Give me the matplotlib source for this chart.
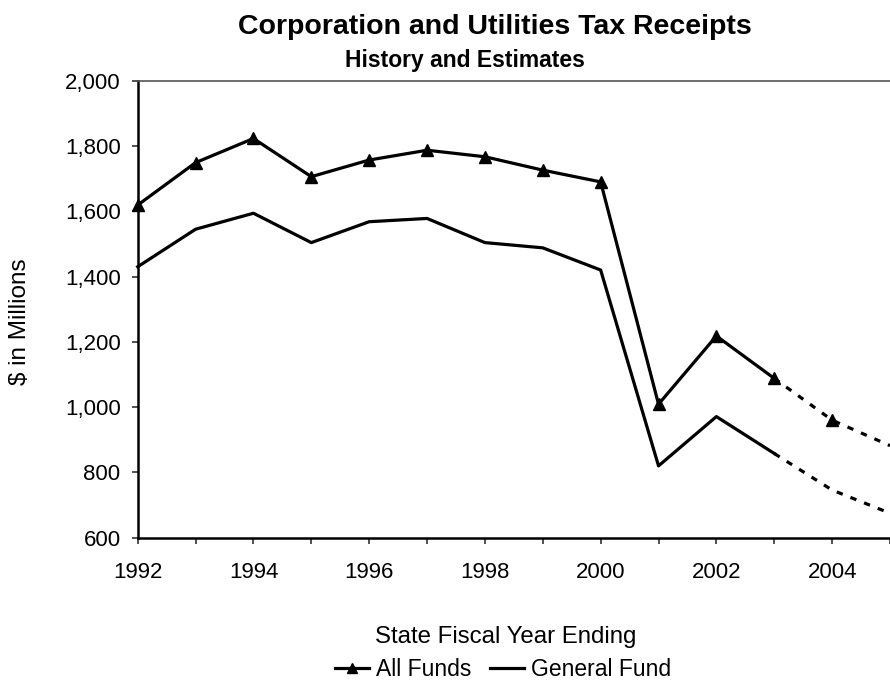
import matplotlib
matplotlib.use("Agg")
import matplotlib.pyplot as plt
from matplotlib.lines import Line2D

plt.rcParams['font.family'] = ['Liberation Sans', 'DejaVu Sans']

years_hist = [1992, 1993, 1994, 1995, 1996, 1997, 1998, 1999, 2000, 2001, 2002, 2003]
all_funds_hist = [1619, 1749, 1823, 1706, 1757, 1787, 1767, 1726, 1690, 1009, 1218, 1088]
general_hist = [1430, 1545, 1594, 1504, 1568, 1578, 1504, 1488, 1420, 820, 971, 858]

years_est = [2003, 2004, 2005]
all_funds_est = [1088, 960, 882]
general_est = [858, 746, 675]

xtick_years = [1992, 1994, 1996, 1998, 2000, 2002, 2004]
yticks = [600, 800, 1000, 1200, 1400, 1600, 1800, 2000]

W, H = 890, 688
fig = plt.figure(figsize=(W / 100, H / 100), dpi=100)
left = 137.7 / W
bottom = 1 - 537.7 / H
top = 1 - 80.7 / H
ax = fig.add_axes([left, bottom, 1.0 - left, top - bottom])

lw = 2.3
ax.plot(years_hist, all_funds_hist, color='black', lw=lw, marker='^', markersize=8,
        clip_on=False, zorder=3)
ax.plot(years_hist, general_hist, color='black', lw=lw, clip_on=False, zorder=3)
ax.plot(years_est, all_funds_est, color='black', lw=lw, ls=(0, (2, 2.6)), marker='^',
        markersize=8, markevery=[1], zorder=3)
ax.plot(years_est, general_est, color='black', lw=lw, ls=(0, (2, 2.6)), zorder=3)

ax.set_xlim(1992, 2005)
ax.set_ylim(600, 2000)
ax.set_xticks(range(1992, 2006))
ax.set_xticklabels([str(y) if y in xtick_years else '' for y in range(1992, 2006)])
ax.set_yticks(yticks)
ax.set_yticklabels([f"{v:,}" for v in yticks])
ax.tick_params(axis='both', labelsize=16, direction='out', length=4.3, width=1.2,
               color='#333333')
ax.tick_params(axis='y', pad=8)
ax.tick_params(axis='x', pad=13)

for s in ['left', 'bottom']:
    ax.spines[s].set_linewidth(1.8)
    ax.spines[s].set_color('black')
ax.spines['top'].set_color('#555555')
ax.spines['top'].set_linewidth(1.2)
ax.spines['right'].set_visible(False)

fig.text(495 / W, 1 - 34 / H, 'Corporation and Utilities Tax Receipts', ha='center',
         va='baseline', fontsize=20.5, fontweight='bold')
fig.text(465 / W, 1 - 67 / H, 'History and Estimates', ha='center', va='baseline',
         fontsize=16.5, fontweight='bold')
fig.text(20 / W, 1 - 322 / H, '$ in Millions', rotation=90, ha='center', va='center',
         fontsize=17.5)
fig.text(506 / W, 1 - 643 / H, 'State Fiscal Year Ending', ha='center', va='baseline',
         fontsize=17.3)

handles = [Line2D([], [], color='black', lw=lw, marker='^', markersize=7),
           Line2D([], [], color='black', lw=lw)]
fig.legend(handles, ['All Funds', 'General Fund'], loc='center', ncol=2,
           bbox_to_anchor=(503 / W, 1 - 670 / H), frameon=False, fontsize=16.5,
           handlelength=1.5, handletextpad=0.3, columnspacing=0.8, borderpad=0)

fig.savefig('out.png', dpi=100)
